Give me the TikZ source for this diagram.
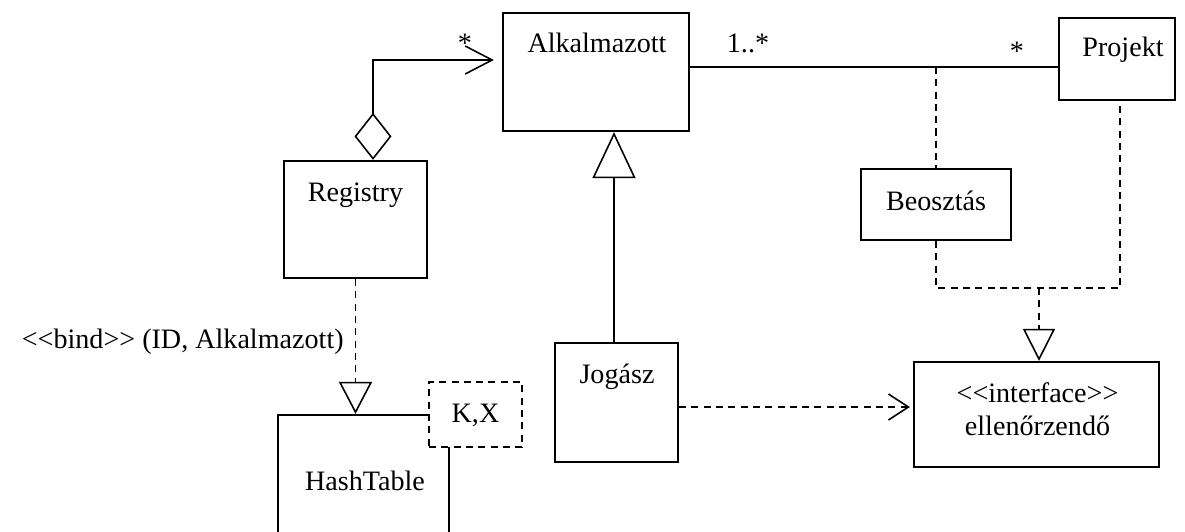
\documentclass[tikz,border=0pt]{standalone}
\usepackage{fontspec}
\setmainfont{Liberation Serif}[Ligatures=TeXOff]
\usetikzlibrary{arrows.meta,calc}

\begin{document}
\begin{tikzpicture}[x=0.02cm,y=-0.02cm,font=\fontsize{16}{19}\selectfont,
  cls/.style={draw,line width=1.3pt,inner sep=0pt},
  txt/.style={anchor=base,inner sep=0pt},
  conn/.style={line width=0.9pt},
  dconn/.style={conn,dash pattern=on 4pt off 3pt}]
\clip (0,0) rectangle (1185,531);

% classes
\node[cls,minimum width=3.72cm,minimum height=2.36cm] (alk) at (596,72) {};
\node[cls,minimum width=2.32cm,minimum height=1.64cm] (proj) at (1117,59) {};
\node[cls,minimum width=3cm,minimum height=1.42cm] (beo) at (936,204.5) {};
\node[cls,minimum width=2.86cm,minimum height=2.34cm] (reg) at (355.5,219.5) {};
\node[cls,minimum width=2.46cm,minimum height=2.38cm] (jog) at (616.5,402.5) {};
\node[cls,minimum width=4.9cm,minimum height=2.1cm] (ell) at (1036.5,414.5) {};
\node[cls,minimum width=3.42cm,minimum height=3.1cm] (hash) at (363.5,492.5) {};
\node[cls,fill=white,dash pattern=on 4pt off 3pt,minimum width=1.86cm,minimum height=1.3cm] (kx) at (475.5,414.5) {};

\node[txt] (alkT) at (597,52) {Alkalmazott};
\node[txt] (projT) at (1123,56) {Projekt};
\node[txt] (beoT) at (936,210) {Beosztás};
\node[txt] (regT) at (355.5,201) {Registry};
\node[txt] (jogT) at (617,383) {Jogász};
\node[txt] (ellA) at (1037.5,402) {<<interface>>};
\node[txt] (ellB) at (1037.5,435) {ellenőrzendő};
\node[txt] (hashT) at (365,490) {HashTable};
\node[txt] (kxT) at (475.5,422) {K,X};

% helper points
\coordinate (agg) at (373,60);
\coordinate (asc) at (0,67);
\coordinate (gen) at (614,0);
\coordinate (rj) at (1039,288);
\coordinate (pj) at (1120,288);
\coordinate (dep) at (0,407);

% connectors
\draw[conn,{Diamond[open,length=0.94cm,width=0.74cm]}-{Straight Barb[length=0.54cm,width=0.56cm]},shorten >=0.16cm]
  (reg.north -| agg) |- (alk.west |- agg);
\draw[conn,-{Triangle[open,length=0.92cm,width=0.86cm]}] (jog.north -| gen) -- (alk.south -| gen);
\draw[conn] (alk.east |- asc) -- (proj.west |- asc);
\draw[dconn] (beo.north |- asc) -- (beo.north);
\draw[dconn] (beo.south) |- (pj) -- (proj.south -| pj);
\draw[dconn,-{Triangle[open,length=0.64cm,width=0.64cm]}] (rj) -- (ell.north -| rj);
\draw[dconn,-{Straight Barb[length=0.4cm,width=0.52cm]},shorten >=0.06cm] (jog.east |- dep) -- (ell.west |- dep);
\draw[dconn,-{Triangle[open,length=0.64cm,width=0.66cm]}] (reg.south) -- (hash.north -| reg.south);

% labels
\node[txt] (aggM) at (465,52) {*};
\node[txt] (alkM) at (748,52) {1..*};
\node[txt] (projM) at (1017,60) {*};
\node[txt,anchor=base east] (bindT) at (344,348) {<<bind>> (ID, Alkalmazott)};

\end{tikzpicture}
\end{document}
